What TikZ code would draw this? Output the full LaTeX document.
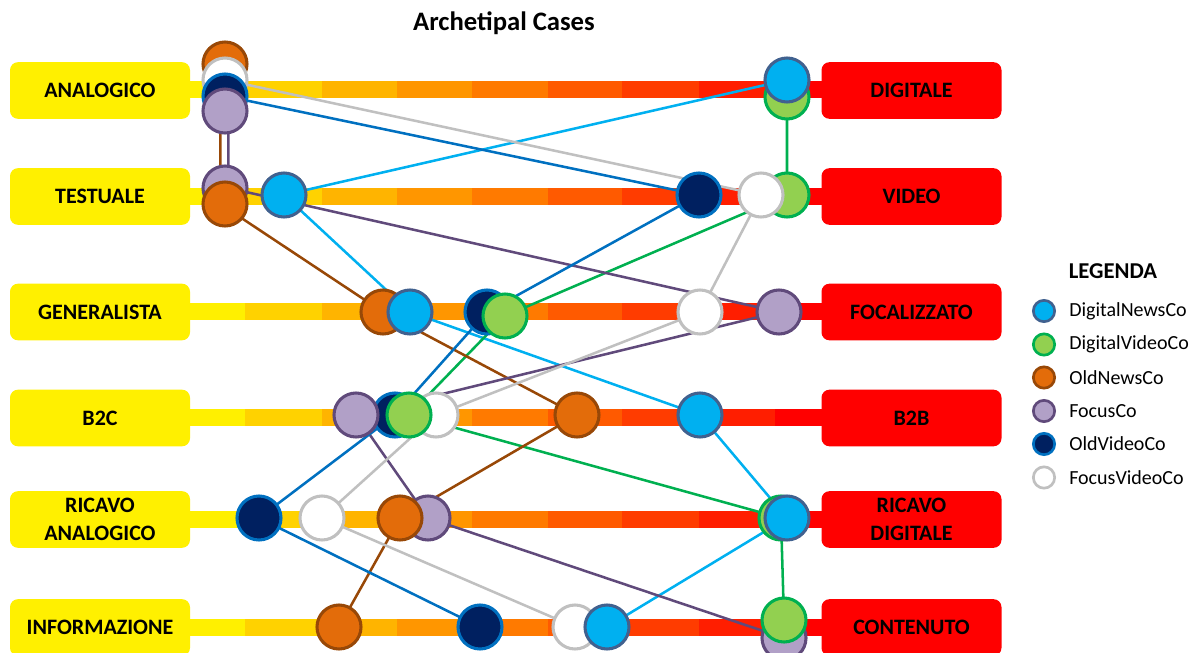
\documentclass[tikz,border=0pt]{standalone}
\usepackage{fontspec}
\setmainfont{Carlito}
% company colours: fill, rim, link
\definecolor{dnfill}{HTML}{00B0F0}\definecolor{dnedge}{HTML}{41618F}\definecolor{dnlink}{HTML}{00B0F0}
\definecolor{dvfill}{HTML}{92D050}\definecolor{dvedge}{HTML}{00B050}\definecolor{dvlink}{HTML}{00B050}
\definecolor{onfill}{HTML}{E36C0A}\definecolor{onedge}{HTML}{984807}\definecolor{onlink}{HTML}{984807}
\definecolor{fcfill}{HTML}{B1A0C7}\definecolor{fcedge}{HTML}{604A7B}\definecolor{fclink}{HTML}{604A7B}
\definecolor{ovfill}{HTML}{002060}\definecolor{ovedge}{HTML}{0070C0}\definecolor{ovlink}{HTML}{0070C0}
\definecolor{fvfill}{HTML}{FFFFFF}\definecolor{fvedge}{HTML}{C0C0C0}\definecolor{fvlink}{HTML}{C0C0C0}
% end boxes and the graded scale between them
\definecolor{leftbox}{HTML}{FFF000}\definecolor{rightbox}{HTML}{FF0000}
\definecolor{barA}{HTML}{FFF000}\definecolor{barB}{HTML}{FFD200}\definecolor{barC}{HTML}{FFB400}
\definecolor{barD}{HTML}{FF9600}\definecolor{barE}{HTML}{FF7A00}\definecolor{barF}{HTML}{FF5A00}
\definecolor{barG}{HTML}{FF3C00}\definecolor{barH}{HTML}{FF1E00}\definecolor{barI}{HTML}{FF0000}
\pgfdeclarelayer{bars}\pgfdeclarelayer{links}
\pgfsetlayers{bars,links,main}
\begin{document}
\begin{tikzpicture}[x=0.75pt,y=-0.75pt,
  endbox/.style={rounded corners=6pt, minimum width=135pt, minimum height=42.5pt,
    inner sep=0pt, align=center, font=\fontsize{16.5}{20.5}\selectfont\bfseries, text=black},
  lbox/.style={endbox, fill=leftbox},
  rbox/.style={endbox, fill=rightbox},
  co/.style={circle, inner sep=0pt, minimum size=33pt, line width=2.3pt},
  dnco/.style={co, fill=dnfill, draw=dnedge},
  dvco/.style={co, fill=dvfill, draw=dvedge},
  onco/.style={co, fill=onfill, draw=onedge},
  fcco/.style={co, fill=fcfill, draw=fcedge},
  ovco/.style={co, fill=ovfill, draw=ovedge},
  fvco/.style={co, fill=fvfill, draw=fvedge},
  small/.style={minimum size=16pt, line width=2pt},
  ln/.style={line width=1.9pt, line join=round},
  dnln/.style={ln, draw=dnlink}, dvln/.style={ln, draw=dvlink},
  onln/.style={ln, draw=onlink}, fcln/.style={ln, draw=fclink},
  ovln/.style={ln, draw=ovlink}, fvln/.style={ln, draw=fvlink},
  legtext/.style={anchor=west, inner sep=0pt, font=\fontsize{15}{18}\selectfont},
]
\useasboundingbox (0,0) rectangle (1192,653);

% graded scales
\begin{pgfonlayer}{bars}
\foreach \y in {89,196,311,417,519,627}{
  \foreach \a/\b/\c in {180/245/barA,245/322/barB,322/397/barC,397/472/barD,
                        472/548/barE,548/622/barF,622/699/barG,699/775/barH,775/830/barI}
    \fill[\c] (\a,\y-8.5) rectangle (\b,\y+8.5);
}
\end{pgfonlayer}

% title
\node[font=\fontsize{20}{24}\selectfont\bfseries] (title) at (504,23) {Archetipal Cases};

% end boxes
\node[lbox] (l1) at (100,90.5) {ANALOGICO};
\node[lbox] (l2) at (100,196.5) {TESTUALE};
\node[lbox] (l3) at (100,312) {GENERALISTA};
\node[lbox] (l4) at (100,418) {B2C};
\node[lbox] (l5) at (100,519.5) {RICAVO\\ANALOGICO};
\node[lbox] (l6) at (100,627.5) {INFORMAZIONE};
\node[rbox] (r1) at (911.5,90.5) {DIGITALE};
\node[rbox] (r2) at (911.5,196.5) {VIDEO};
\node[rbox] (r3) at (911.5,312) {FOCALIZZATO};
\node[rbox] (r4) at (911.5,418) {B2B};
\node[rbox] (r5) at (911.5,519.5) {RICAVO\\DIGITALE};
\node[rbox] (r6) at (911.5,627.5) {CONTENUTO};

% row 1
\node[onco] (on1) at (225,64) {};
\node[fvco] (fv1) at (225,80) {};
\node[ovco] (ov1) at (225,96) {};
\node[fcco] (fc1) at (225,111) {};
\node[dvco] (dv1) at (787,97) {};
\node[dnco] (dn1) at (787,80) {};
% row 2
\node[fcco] (fc2) at (225,188) {};
\node[onco] (on2) at (225,204) {};
\node[dnco] (dn2) at (284,195) {};
\node[ovco] (ov2) at (699,195) {};
\node[dvco] (dv2) at (787,195) {};
\node[fvco] (fv2) at (761,195) {};
% row 3
\node[onco] (on3) at (383,312) {};
\node[dnco] (dn3) at (410,312) {};
\node[ovco] (ov3) at (487,312) {};
\node[dvco] (dv3) at (505,316) {};
\node[fvco] (fv3) at (700,312) {};
\node[fcco] (fc3) at (779,312) {};
% row 4
\node[fvco] (fv4) at (436,415) {};
\node[ovco] (ov4) at (395,415) {};
\node[fcco] (fc4) at (356,415) {};
\node[dvco] (dv4) at (409,415) {};
\node[onco] (on4) at (577,415) {};
\node[dnco] (dn4) at (700,415) {};
% row 5
\node[ovco] (ov5) at (259,518) {};
\node[fvco] (fv5) at (322,518) {};
\node[fcco] (fc5) at (428,518) {};
\node[onco] (on5) at (400,518) {};
\node[dvco] (dv5) at (781,518) {};
\node[dnco] (dn5) at (787,518) {};
% row 6
\node[onco] (on6) at (339,627) {};
\node[ovco] (ov6) at (480,627) {};
\node[fvco] (fv6) at (575,627) {};
\node[dnco] (dn6) at (607,627) {};
\node[fcco] (fc6) at (784,638) {};
\node[dvco] (dv6) at (784,620) {};

% paths of each company through the six scales
\begin{pgfonlayer}{links}
\draw[dnln] (dn1.center) -- (dn2.center) -- (dn3.center) -- (dn4.center) -- (dn5.center) -- (dn6.center);
\draw[dvln] (dv1.center) -- (dv2.center) -- (dv3.center) -- (dv4.center) -- (dv5.center) -- (dv6.center);
\draw[onln] ([xshift=-3.5pt]on1.center) -- ([xshift=-3.5pt]on2.center) -- (on3.center) -- (on4.center) -- (on5.center) -- (on6.center);
\draw[fcln] ([xshift=2.5pt]fc1.center) -- ([xshift=2.5pt]fc2.center) -- (fc3.center) -- (fc4.center) -- (fc5.center) -- (fc6.center);
\draw[ovln] (ov1.center) -- (ov2.center) -- (ov3.center) -- (ov4.center) -- (ov5.center) -- (ov6.center);
\draw[fvln] (fv1.center) -- (fv2.center) -- (fv3.center) -- (fv4.center) -- (fv5.center) -- (fv6.center);
\end{pgfonlayer}

% legend
\node[font=\fontsize{17}{20}\selectfont\bfseries] (legtitle) at (1113,271) {LEGENDA};
\node[dnco, small] (k1) at (1044,311) {};
\node[dvco, small] (k2) at (1044,344.5) {};
\node[onco, small] (k3) at (1044,377.5) {};
\node[fcco, small] (k4) at (1044,411) {};
\node[ovco, small] (k5) at (1044,444) {};
\node[fvco, small] (k6) at (1044,477.5) {};
\node[legtext] (t1) at (1069,311) {DigitalNewsCo};
\node[legtext] (t2) at (1069,344.5) {DigitalVideoCo};
\node[legtext] (t3) at (1069,377.5) {OldNewsCo};
\node[legtext] (t4) at (1069,411) {FocusCo};
\node[legtext] (t5) at (1069,444) {OldVideoCo};
\node[legtext] (t6) at (1069,477.5) {FocusVideoCo};
\end{tikzpicture}
\end{document}
